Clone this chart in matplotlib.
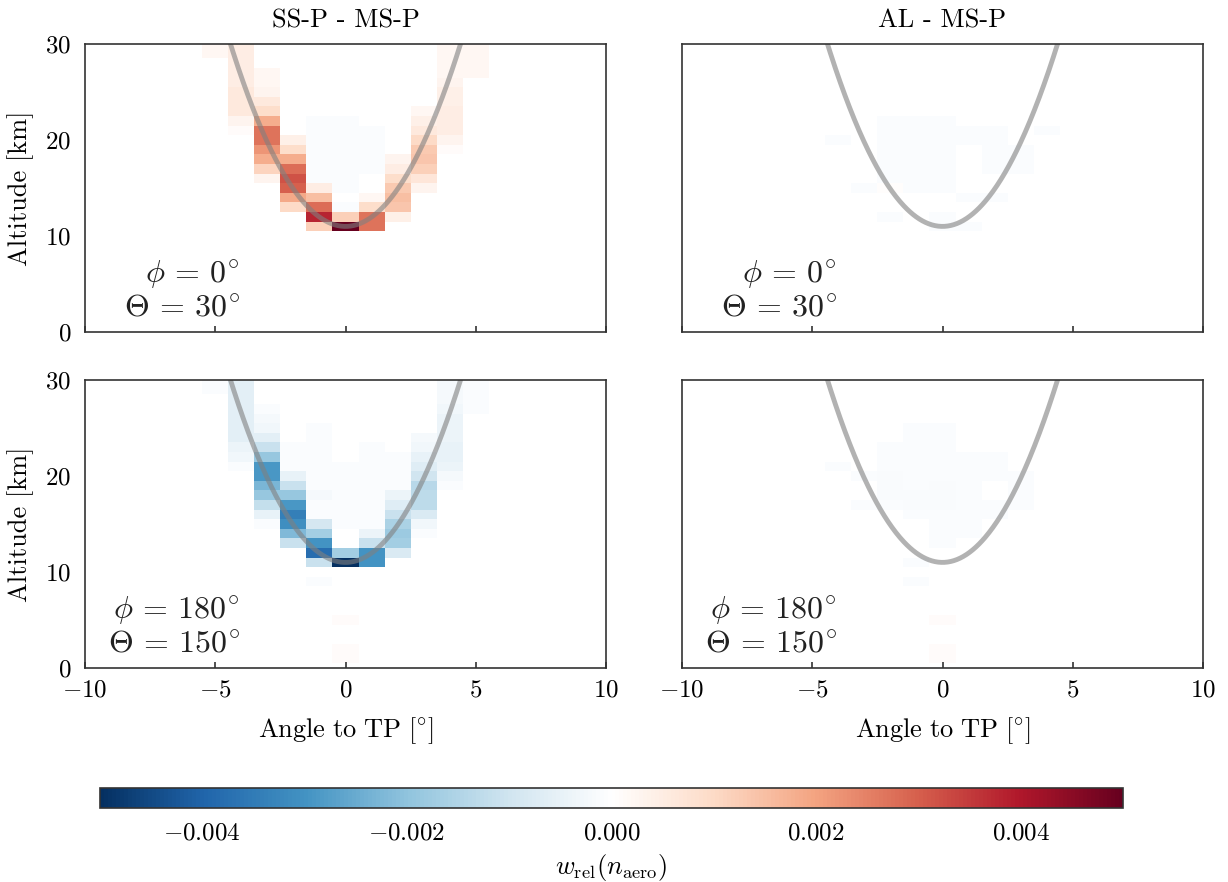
import numpy as np
import matplotlib as mpl
mpl.use('Agg')
import matplotlib.pyplot as plt
from matplotlib.colors import LinearSegmentedColormap
from matplotlib.ticker import FuncFormatter

plt.rcParams['font.family'] = 'serif'
plt.rcParams['font.serif'] = ['cmr10']
plt.rcParams['mathtext.fontset'] = 'cm'
plt.rcParams['axes.formatter.use_mathtext'] = True
plt.rcParams['axes.unicode_minus'] = True

# grid of the retrieval: angle to tangent point (deg) and altitude (km)
angles = np.arange(-5, 6)          # cell centres
altitudes = np.arange(30, -1, -1)  # rows listed from 30 km down to 0 km

# w_rel(n_aero) in units of 1e-4, rows = altitudes, cols = angles
ssp_phi0 = [
    [2, 5, 0, 0, 0, 0, 0, 0, 0, 2, 2],      # 30
    [2, 5, 0, 0, 0, 0, 0, 0, 0, 2, 2],      # 29
    [0, 5, 0, 0, 0, 0, 0, 0, 0, 2, 2],      # 28
    [0, 5, 2, 0, 0, 0, 0, 0, 0, 2, 2],      # 27
    [0, 5, 2, 0, 0, 0, 0, 0, 0, 3, 0],      # 26
    [0, 6, 3, 0, 0, 0, 0, 0, 0, 4, 0],      # 25
    [0, 6, 6, 0, 0, 0, 0, 0, 0, 4, 0],      # 24
    [0, 6, 9, 0, 0, 0, 0, 0, 2, 5, 0],      # 23
    [0, 3, 18, 0, -1, -1, 0, 0, 4, 5, 0],   # 22
    [0, 1, 27, 0, -1, -1, -1, 0, 6, 5, 0],  # 21
    [0, 0, 27, 4, -1, -1, -1, 0, 10, 3, 0], # 20
    [0, 0, 22, 9, -1, -1, -1, 0, 13, 1, 0], # 19
    [0, 0, 18, 18, -1, -1, -1, 3, 14, 0, 0],# 18
    [0, 0, 11, 28, -1, -1, -1, 5, 12, 0, 0],# 17
    [0, 0, 3, 32, -1, -1, 0, 9, 7, 0, 0],   # 16
    [0, 0, 0, 30, 5, -1, 0, 13, 3, 0, 0],   # 15
    [0, 0, 0, 19, 15, 0, 2, 15, 0, 0, 0],   # 14
    [0, 0, 0, 10, 28, -1, 9, 14, 0, 0, 0],  # 13
    [0, 0, 0, 0, 38, 12, 27, 4, 0, 0, 0],   # 12
    [0, 0, 0, 0, 12, 50, 27, 0, 0, 0, 0],   # 11
] + [[0] * 11] * 11                          # 10 .. 0

ssp_phi180 = [
    [-1, -6, 0, 0, 0, 0, 0, 0, 0, -2, -1],         # 30
    [-1, -6, 0, 0, 0, 0, 0, 0, 0, -2, -1],         # 29
    [0, -6, 0, 0, 0, 0, 0, 0, 0, -2, -1],          # 28
    [0, -6, -1, 0, 0, 0, 0, 0, 0, -3, -1],         # 27
    [0, -6, -2, 0, 0, 0, 0, 0, 0, -4, 0],          # 26
    [0, -6, -3, 0, -1, 0, 0, 0, 0, -4, 0],         # 25
    [0, -6, -6, 0, -1, 0, 0, 0, -2, -4, 0],        # 24
    [0, -4, -11, -1, -1, 0, -1, 0, -3, -5, 0],     # 23
    [0, -3, -19, -1, -1, 0, -1, -1, -5, -5, 0],    # 22
    [0, -1, -29, -1, -1, -1, -1, -1, -7, -4, 0],   # 21
    [0, 0, -29, -5, -1, -1, -1, -1, -10, -2, 0],   # 20
    [0, 0, -23, -11, -1, -1, -1, -1, -14, -1, 0],  # 19
    [0, 0, -19, -19, -2, -1, -1, -4, -13, 0, 0],   # 18
    [0, 0, -12, -29, -1, -1, -1, -7, -13, 0, 0],   # 17
    [0, 0, -5, -34, -1, -1, -1, -11, -8, 0, 0],    # 16
    [0, 0, -1, -31, -9, -1, -1, -16, -3, 0, 0],    # 15
    [0, 0, 0, -22, -17, 0, -4, -18, -1, 0, 0],     # 14
    [0, 0, 0, -11, -30, 0, -11, -17, 0, 0, 0],     # 13
    [0, 0, 0, 0, -38, -17, -30, -8, 0, 0, 0],      # 12
    [0, 0, 0, 0, -11, -50, -30, 0, 0, 0, 0],       # 11
    [0, 0, 0, 0, 0, 0, 0, 0, 0, 0, 0],             # 10
    [0, 0, 0, 0, -1, 0, 0, 0, 0, 0, 0],            # 9
    [0, 0, 0, 0, 0, 0, 0, 0, 0, 0, 0],             # 8
    [0, 0, 0, 0, 0, 0, 0, 0, 0, 0, 0],             # 7
    [0, 0, 0, 0, 0, 0, 0, 0, 0, 0, 0],             # 6
    [0, 0, 0, 0, 0, 1, 0, 0, 0, 0, 0],             # 5
    [0, 0, 0, 0, 0, 0, 0, 0, 0, 0, 0],             # 4
    [0, 0, 0, 0, 0, 0, 0, 0, 0, 0, 0],             # 3
    [0, 0, 0, 0, 0, 1, 0, 0, 0, 0, 0],             # 2
    [0, 0, 0, 0, 0, 1, 0, 0, 0, 0, 0],             # 1
    [0, 0, 0, 0, 0, 0, 0, 0, 0, 0, 0],             # 0
]

al_phi0 = [[0] * 11] * 8 + [                        # 30 .. 23
    [0, 0, 0, -1, -1, -1, 0, 0, 0, 0, 0],           # 22
    [0, 0, 0, -1, -1, -1, -1, -1, 0, -1, 0],        # 21
    [0, -1, 0, -1, -1, -1, -1, -1, 0, 0, 0],        # 20
    [0, 0, 0, -1, -1, -1, 0, -1, -1, 0, 0],         # 19
    [0, 0, 0, -1, -1, -1, 0, -1, -1, 0, 0],         # 18
    [0, 0, 0, -1, -1, -1, 0, -1, -1, 0, 0],         # 17
    [0, 0, 0, -1, -1, -1, 0, 0, 0, 0, 0],           # 16
    [0, 0, -1, .5, -1, -1, 0, 0, 0, 0, 0],          # 15
    [0, 0, 0, 0, 0, 0, -1, -1, 0, 0, 0],            # 14
    [0, 0, 0, 0, 0, 0, 0, 0, 0, 0, 0],              # 13
    [0, 0, 0, -1, 0, -1, 0, 0, 0, 0, 0],            # 12
    [0, 0, 0, 0, 0, -1, -1, 0, 0, 0, 0],            # 11
] + [[0] * 11] * 11                                 # 10 .. 0

al_phi180 = [[0] * 11] * 5 + [                      # 30 .. 26
    [0, 0, 0, 0, -1, -1, 0, 0, 0, 0, 0],            # 25
    [0, 0, 0, 0, -1, -1, 0, 0, 0, 0, 0],            # 24
    [0, 0, 0, -1, -1, -1, 0, 0, 0, 0, 0],           # 23
    [0, 0, 0, -1, -1, -1, -1, -1, 0, 0, 0],         # 22
    [0, -1, 0, -1, -1, -1, -1, -1, 0, 0, 0],        # 21
    [0, 0, -1, -1.3, -1, -1, -1, -1, -1, 0, 0],     # 20
    [0, 0, 0, -1.3, -1, -1.3, -1, 0, -1, 0, 0],     # 19
    [0, 0, 0, -1.3, -1.3, -1.3, -1, 0, -1, 0, 0],   # 18
    [0, 0, -1, -1, -1.3, -1.3, -1, -1, -1, 0, 0],   # 17
    [0, 0, 0, 0, -1, -1, -1, -1, 0, 0, 0],          # 16
    [0, 0, 0, 0, 0, -1, -1, 0, 0, 0, 0],            # 15
    [0, 0, 0, 0, 0, -1, -1, 0, 0, 0, 0],            # 14
    [0, 0, 0, 0, 0, -1, 0, 0, 0, 0, 0],             # 13
    [0, 0, 0, 0, 0, 0, 0, 0, 0, 0, 0],              # 12
    [0, 0, 0, 0, -1, 0, 0, 0, 0, 0, 0],             # 11
    [0, 0, 0, 0, 0, 0, 0, 0, 0, 0, 0],              # 10
    [0, 0, 0, 0, -1, 0, 0, 0, 0, 0, 0],             # 9
    [0, 0, 0, 0, 0, 0, 0, 0, 0, 0, 0],              # 8
    [0, 0, 0, 0, 0, 0, 0, 0, 0, 0, 0],              # 7
    [0, 0, 0, 0, 0, 0, 0, 0, 0, 0, 0],              # 6
    [0, 0, 0, 0, 0, 1, 0, 0, 0, 0, 0],              # 5
    [0, 0, 0, 0, 0, 0, 0, 0, 0, 0, 0],              # 4
    [0, 0, 0, 0, 0, 0, 0, 0, 0, 0, 0],              # 3
    [0, 0, 0, 0, 0, .8, 0, 0, 0, 0, 0],             # 2
    [0, 0, 0, 0, 0, .8, 0, 0, 0, 0, 0],             # 1
    [0, 0, 0, 0, 0, 0, 0, 0, 0, 0, 0],              # 0
]

col_titles = ['SS-P - MS-P', 'AL - MS-P']
geometries = [r'$\phi\,=\,0^{\!\circ}$' + '\n' + r'$\Theta\,=\,30^{\!\circ}$',
              r'$\phi\,=\,180^{\!\circ}$' + '\n' + r'$\Theta\,=\,150^{\!\circ}$']
panels = [[ssp_phi0, al_phi0], [ssp_phi180, al_phi180]]

# line of sight with 11 km tangent height
R_earth = 6371.
h_tangent = 11.
los_angle = np.linspace(-6, 6, 400)
los_alt = (R_earth + h_tangent) / np.cos(np.deg2rad(los_angle)) - R_earth

# RdBu_r but with a pure white centre
rdbu = plt.get_cmap('RdBu_r')(np.linspace(0, 1, 11))
rdbu[5] = [1, 1, 1, 1]
cmap = LinearSegmentedColormap.from_list('RdWBu_r', rdbu)

vlim = 0.005
x_edges = np.append(angles - 0.5, angles[-1] + 0.5)
y_edges = np.append(altitudes + 0.5, altitudes[-1] - 0.5)

fig, axes = plt.subplots(2, 2, figsize=(12.28, 8.82), dpi=100, sharex=True, sharey=True)
fig.subplots_adjust(left=85/1228, right=1203/1228, top=1-44/882, bottom=1-668/882,
                    wspace=76/521, hspace=48/288)

for i in range(2):
    for j in range(2):
        ax = axes[i, j]
        vals = np.array(panels[i][j], dtype=float) * 1e-4
        vals = np.ma.masked_equal(vals, 0.)
        mesh = ax.pcolormesh(x_edges, y_edges, vals, cmap=cmap, vmin=-vlim, vmax=vlim,
                             shading='flat', edgecolors='none', antialiased=False)
        ax.plot(los_angle, los_alt, color='gray', alpha=0.6, lw=3.5, solid_capstyle='butt')
        ax.text(0.297, 0.035, geometries[i], transform=ax.transAxes, ha='right', va='bottom',
                multialignment='right', fontsize=23, color='#222222', linespacing=1.15)
        ax.set_xlim(-10, 10)
        ax.set_ylim(0, 30)
        for s in ax.spines.values():
            s.set_color('#333333')
            s.set_linewidth(1.2)
        ax.tick_params(axis='x', direction='in', length=4, width=1.2, color='#333333',
                       labelsize=18, pad=8)
        ax.tick_params(axis='y', length=0, labelsize=18, pad=10)
        if i == 0:
            ax.set_title(col_titles[j], fontsize=19, pad=12)
        if i == 1:
            ax.set_xlabel(r'$\mathrm{Angle\ to\ TP}\ [^{\circ}]$', fontsize=19, labelpad=10)
        if j == 0:
            ax.set_ylabel('Altitude [km]', fontsize=19, labelpad=8)

axes[0, 0].set_xticks([-10, -5, 0, 5, 10])
axes[0, 0].set_yticks([0, 10, 20, 30])

cax = fig.add_axes([100/1228, 1-808/882, 1023/1228, 20/882])
cb = fig.colorbar(mesh, cax=cax, orientation='horizontal')
cb.set_ticks([-0.004, -0.002, 0., 0.002, 0.004])
cb.ax.xaxis.set_major_formatter(FuncFormatter(lambda v, p: r'$%.3f$' % v if abs(v) > 1e-9 else r'$0.000$'))
cb.ax.tick_params(length=0, labelsize=18, pad=10)
cb.outline.set_edgecolor('#333333')
cb.outline.set_linewidth(1.2)
cb.set_label(r'$w_{\rm rel}(n_{\rm aero})$', fontsize=19, labelpad=6)

fig.savefig('out.png', dpi=100)
